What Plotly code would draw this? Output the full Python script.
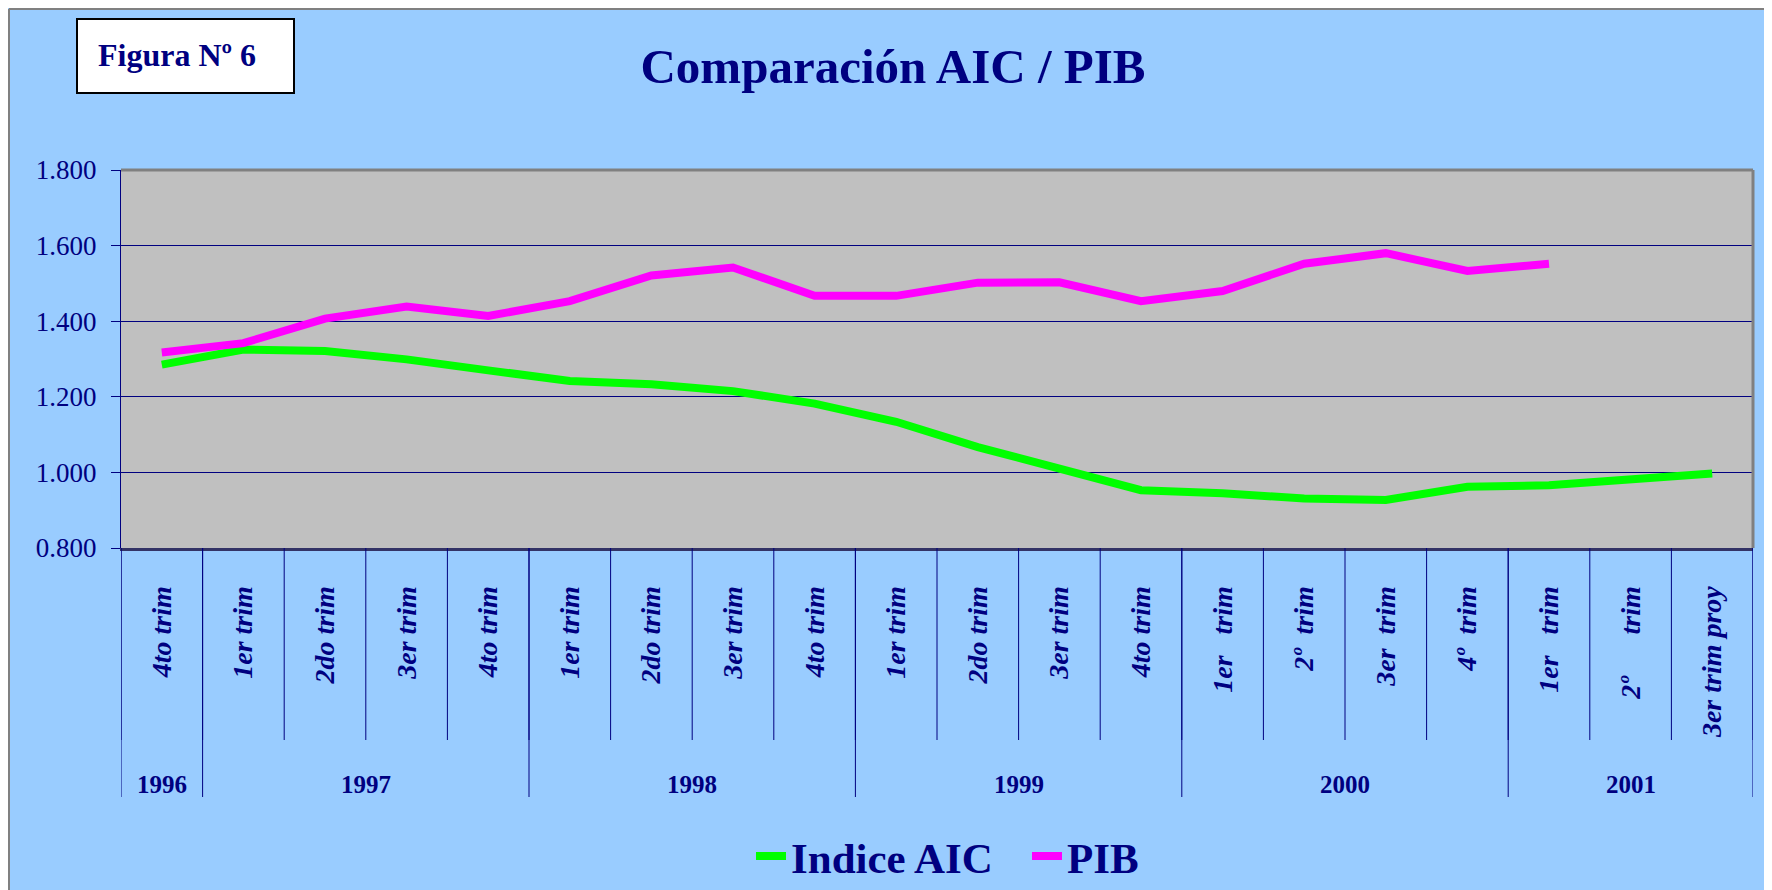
import plotly.graph_objects as go

quarters = ["4to trim", "1er trim", "2do trim", "3er trim", "4to trim",
            "1er trim", "2do trim", "3er trim", "4to trim",
            "1er trim", "2do trim", "3er trim", "4to trim",
            "1er\u00a0\u00a0\u00a0trim", "2º\u00a0\u00a0trim", "3er\u00a0\u00a0trim", "4º\u00a0\u00a0trim",
            "1er\u00a0\u00a0\u00a0trim", "2º\u00a0\u00a0\u00a0\u00a0\u00a0\u00a0trim", "3er trim proy"]
years = ["1996", "1997", "1998", "1999", "2000", "2001"]
year_counts = [1, 4, 4, 4, 4, 3]

aic = [1.285, 1.325, 1.321, 1.299, 1.270, 1.242, 1.233, 1.215, 1.182, 1.134,
       1.067, 1.011, 0.953, 0.945, 0.931, 0.927, 0.962, 0.966, 0.984, 0.997]
pib = [1.317, 1.342, 1.407, 1.439, 1.414, 1.453, 1.521, 1.542, 1.467, 1.467,
       1.502, 1.503, 1.453, 1.480, 1.552, 1.580, 1.533, 1.552, None, None]

NAVY = "#000080"
FONT = "Liberation Serif"
W, H = 1772, 890
OFF = 8  # page body offset
PL, PT, PW, PH = 121, 170, 1632, 378  # plot area in screen coords
PB = PT + PH


def px(X):
    return (X - PL) / PW


def py(Y):
    return (PB - Y) / PH


x = list(range(len(quarters)))

fig = go.Figure()
fig.add_trace(go.Scatter(x=x, y=aic, mode="lines", name="Indice AIC",
                         line=dict(color="#00FF00", width=8)))
fig.add_trace(go.Scatter(x=x, y=pib, mode="lines", name="PIB",
                         line=dict(color="#FF00FF", width=8)))

boundaries = [i - 0.5 for i in range(len(quarters) + 1)]
year_bounds = [-0.5]
for c in year_counts:
    year_bounds.append(year_bounds[-1] + c)

shapes = []
for b in boundaries:
    shapes.append(dict(type="line", xref="x", yref="paper", x0=b, x1=b,
                       y0=0, y1=py(740), line=dict(color=NAVY, width=1)))
for b in year_bounds:
    shapes.append(dict(type="line", xref="x", yref="paper", x0=b, x1=b,
                       y0=0, y1=py(797), line=dict(color=NAVY, width=1)))
shapes.append(dict(type="line", xref="paper", yref="paper", x0=0, x1=1, y0=1, y1=1,
                   line=dict(color="#808080", width=3)))
shapes.append(dict(type="line", xref="paper", yref="paper", x0=1, x1=1, y0=0, y1=1,
                   line=dict(color="#808080", width=3)))
shapes.append(dict(type="rect", xref="paper", yref="paper",
                   x0=px(77), x1=px(294), y0=py(93), y1=py(19),
                   fillcolor="white", line=dict(color="black", width=2)))
shapes.append(dict(type="line", xref="paper", yref="paper",
                   x0=px(OFF + 1), x1=px(OFF + 1), y0=py(H + OFF), y1=py(OFF + 1),
                   line=dict(color="#808080", width=2)))
shapes.append(dict(type="line", xref="paper", yref="paper",
                   x0=px(OFF + 1), x1=px(W + OFF), y0=py(OFF + 1), y1=py(OFF + 1),
                   line=dict(color="#808080", width=2)))

annotations = []
for i, yr in enumerate(years):
    cx = (year_bounds[i] + year_bounds[i + 1]) / 2
    annotations.append(dict(x=cx, y=py(784), xref="x", yref="paper",
                            text=yr, showarrow=False, yanchor="middle", xanchor="center",
                            font=dict(family=FONT, size=25, color=NAVY, weight="bold")))
annotations.append(dict(x=px(177), y=py(55), xref="paper", yref="paper",
                        text="Figura Nº 6", showarrow=False, yanchor="middle", xanchor="center",
                        font=dict(family=FONT, size=32, color=NAVY, weight="bold")))

fig.update_layout(
    width=W, height=H,
    paper_bgcolor="#99CCFF", plot_bgcolor="#C0C0C0",
    margin=dict(l=PL - OFF, r=W - (PL - OFF) - PW, t=PT - OFF, b=H - (PT - OFF) - PH,
                autoexpand=False),
    title=dict(text="Comparación AIC / PIB", xref="container", yref="container",
               x=(893 - OFF) / W, xanchor="center",
               y=1 - (66 - OFF) / H, yanchor="middle",
               font=dict(family=FONT, size=49, color=NAVY, weight="bold")),
    showlegend=True,
    legend=dict(orientation="h", x=px(751), xanchor="left", entrywidth=231,
                yref="container", y=1 - (856 - OFF) / H, yanchor="middle",
                font=dict(family=FONT, size=43, color=NAVY, weight="bold"),
                bgcolor="rgba(0,0,0,0)"),
    shapes=shapes, annotations=annotations,
    xaxis=dict(range=[-0.5, 19.5], tickvals=x, ticktext=quarters, tickangle=-90,
               showgrid=False, zeroline=False, ticks="", automargin=False,
               showline=True, linecolor="#333366", linewidth=3,
               ticklabelstandoff=24,
               tickfont=dict(family=FONT, size=28, color=NAVY, weight="bold", style="italic")),
    yaxis=dict(range=[0.8, 1.8], dtick=0.2, tick0=0.8, tickformat=".3f", automargin=False,
               showgrid=True, gridcolor=NAVY, gridwidth=1, zeroline=False,
               showline=True, linecolor=NAVY, linewidth=1,
               ticks="outside", ticklen=9, tickcolor=NAVY, ticklabelstandoff=9,
               tickfont=dict(family=FONT, size=27, color=NAVY)),
)

fig.write_html("out.html")
